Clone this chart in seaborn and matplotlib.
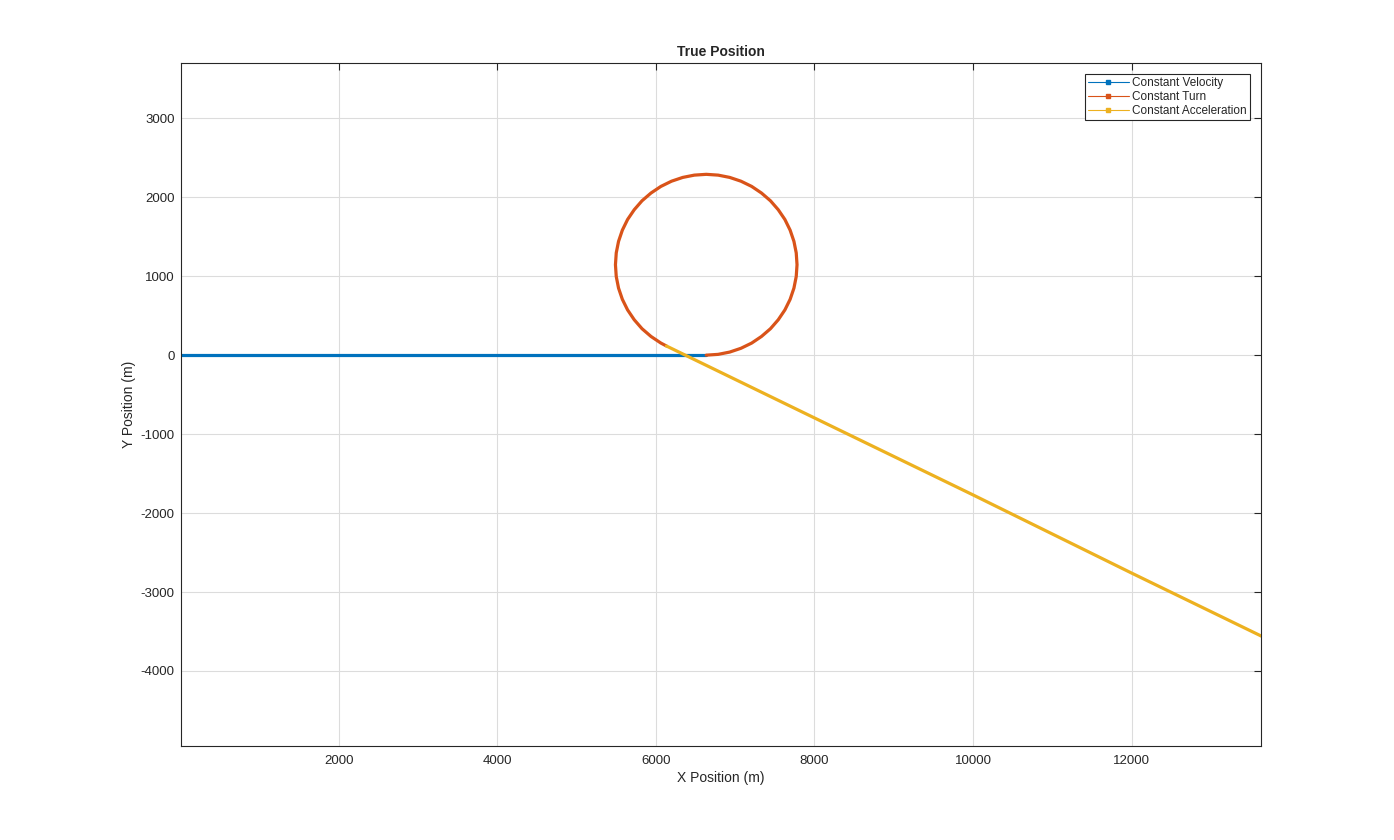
import pandas as pd
import matplotlib.pyplot as plt
import seaborn as sns
from matplotlib.lines import Line2D

# ---------------- data ----------------
cv_x = [0, 6635]
cv_y = [0, 0]

ct_x = [6635, 6785, 6931, 7073, 7208, 7332, 7445, 7543, 7627, 7693, 7741, 7770,
        7780, 7770, 7741, 7693, 7627, 7543, 7445, 7332, 7208, 7073, 6931, 6785,
        6635, 6485, 6339, 6197, 6063, 5938, 5825, 5727, 5643, 5577, 5529, 5500,
        5490, 5500, 5529, 5577, 5643, 5727, 5825, 5938, 6063, 6133]
ct_y = [0, 10, 39, 87, 153, 237, 335, 448, 573, 707, 849, 996,
        1145, 1295, 1441, 1583, 1718, 1842, 1955, 2053, 2137, 2203, 2251, 2280,
        2290, 2280, 2251, 2203, 2137, 2053, 1955, 1842, 1718, 1583, 1441, 1295,
        1145, 996, 849, 707, 573, 448, 335, 237, 153, 116]

ca_x = [6133, 8000, 10000, 12000, 13640]
ca_y = [116, -795, -1770, -2760, -3560]

labels = ["Constant Velocity", "Constant Turn", "Constant Acceleration"]
colors = ["#0072BD", "#D95319", "#EDB120"]

xticks = [2000, 4000, 6000, 8000, 10000, 12000]
yticks = [-4000, -3000, -2000, -1000, 0, 1000, 2000, 3000]

df = pd.concat([
    pd.DataFrame({"x": cv_x, "y": cv_y, "model": labels[0]}),
    pd.DataFrame({"x": ct_x, "y": ct_y, "model": labels[1]}),
    pd.DataFrame({"x": ca_x, "y": ca_y, "model": labels[2]}),
], ignore_index=True)

# ---------------- style ----------------
sns.set_style("white")
plt.rcParams['font.family'] = ['Liberation Sans', 'DejaVu Sans']
plt.rcParams['axes.unicode_minus'] = False

fig = plt.figure(figsize=(13.94, 8.4), dpi=100)
ax = fig.add_axes([0.1298, 0.1119, 0.7747, 0.8131])

sns.lineplot(data=df, x="x", y="y", hue="model", palette=colors, sort=False,
             estimator=None, lw=2.3, legend=False, ax=ax)

ax.set_xlim(10, 13630)
ax.set_ylim(-4950, 3700)
ax.set_xticks(xticks)
ax.set_yticks(yticks)
ax.grid(True, color="#dcdcdc", lw=0.8)
ax.set_axisbelow(True)
ax.tick_params(direction="in", length=5, width=0.8, top=True, right=True,
               labelsize=9.5, colors="#262626")
ax.tick_params(axis="x", pad=6.5)
ax.tick_params(axis="y", pad=4.5)
for s in ax.spines.values():
    s.set_color("#262626")
    s.set_linewidth(0.8)

ax.set_title("True Position", fontsize=10, fontweight="bold", pad=5)
ax.set_xlabel("X Position (m)", fontsize=10, color="#262626", labelpad=3)
ax.set_ylabel("Y Position (m)", fontsize=10, color="#262626", labelpad=3)

handles = [Line2D([], [], color=c, lw=0.8, marker="s", markersize=2.5) for c in colors]
leg = ax.legend(handles, labels, loc="upper right", fontsize=8.5, frameon=True,
                fancybox=False, edgecolor="#262626", framealpha=1,
                borderpad=0.3, labelspacing=0.15, handlelength=3.4,
                handletextpad=0.3, borderaxespad=0.9)
leg.get_frame().set_linewidth(0.8)

plt.savefig("out.png", dpi=100)
